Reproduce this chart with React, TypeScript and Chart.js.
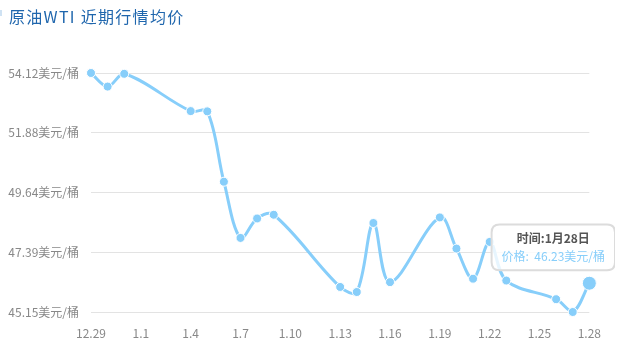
import React, { useEffect, useRef } from "react";
import { Chart, registerables } from "chart.js";

Chart.register(...registerables);

// Trading days (month.day) and WTI average prices in USD per barrel
const dates = [
  "12.29", "12.30", "12.31", "1.4", "1.5", "1.6", "1.7", "1.8", "1.9",
  "1.13", "1.14", "1.15", "1.16", "1.19", "1.20", "1.21", "1.22", "1.23",
  "1.26", "1.27", "1.28",
];
const prices = [
  54.12, 53.61, 54.09, 52.69, 52.68, 50.04, 47.93, 48.66, 48.8,
  46.09, 45.9, 48.49, 46.27, 48.7, 47.53, 46.4, 47.78, 46.33,
  45.63, 45.15, 46.23,
];

// Axis ticks
const yTickValues = [45.15, 47.39, 49.64, 51.88, 54.12];
const xTickLabels = ["12.29", "1.1", "1.4", "1.7", "1.10", "1.13", "1.16", "1.19", "1.22", "1.25", "1.28"];
const xTickStep = 3;

const titleText = "原油WTI 近期行情均价";
const unit = "美元/桶";

// Day offset of each trading date from the first one (the range spans a year end)
function dayOffset(d: string): number {
  const [m, day] = d.split(".").map(Number);
  const startYear = 2014;
  const year = m === 12 ? startYear : startYear + 1;
  const t = Date.UTC(year, m - 1, day);
  const [m0, d0] = dates[0].split(".").map(Number);
  const t0 = Date.UTC(startYear, m0 - 1, d0);
  return Math.round((t - t0) / 86400000);
}

const points = dates.map((d, i) => ({ x: dayOffset(d), y: prices[i] }));
const lastDay = points[points.length - 1].x;

const LINE = "#87cefa";
const FONT = "'Noto Sans CJK SC', 'DejaVu Sans', sans-serif";

export default function App() {
  const canvasRef = useRef<HTMLCanvasElement | null>(null);

  useEffect(() => {
    document.body.style.margin = "0";
    const canvas = canvasRef.current;
    if (!canvas) return;

    const chart = new Chart(canvas, {
      type: "line",
      data: {
        datasets: [
          {
            data: points,
            borderColor: LINE,
            backgroundColor: LINE,
            borderWidth: 3,
            tension: 0.35,
            pointRadius: 4.5,
            pointBorderWidth: 1,
            pointBorderColor: "#ffffff",
            pointBackgroundColor: LINE,
            pointHoverRadius: 7,
            pointHoverBorderWidth: 1,
            pointHoverBorderColor: "#ffffff",
            pointHoverBackgroundColor: LINE,
            clip: false,
          },
        ],
      },
      options: {
        animation: false,
        responsive: false,
        events: [],
        layout: { padding: { top: 73, right: 25, left: 0, bottom: 0 } },
        plugins: {
          legend: { display: false },
          title: { display: false },
          tooltip: {
            enabled: true,
            backgroundColor: "rgba(255,255,255,0.8)",
            borderColor: "#dcdcdc",
            borderWidth: 2,
            cornerRadius: 8,
            caretSize: 0,
            caretPadding: 13,
            xAlign: "center",
            yAlign: "bottom",
            displayColors: false,
            padding: { x: 10, y: 7 },
            titleAlign: "center",
            bodyAlign: "center",
            titleColor: "#555555",
            bodyColor: LINE,
            titleFont: { family: FONT, size: 12, weight: "bold" },
            bodyFont: { family: FONT, size: 12 },
            titleMarginBottom: 3,
            callbacks: {
              title: (items: any[]) => {
                const d = dates[items[0].dataIndex];
                const [m, day] = d.split(".");
                return "时间:" + m + "月" + day + "日";
              },
              label: (item: any) => "价格:  " + item.parsed.y.toFixed(2) + unit,
            },
          },
        },
        scales: {
          x: {
            type: "linear",
            min: 0,
            max: lastDay,
            grid: { display: false, drawTicks: false },
            border: { display: false },
            afterBuildTicks: (scale: any) => {
              scale.ticks = xTickLabels.map((_, i) => ({ value: i * xTickStep }));
            },
            afterFit: (scale: any) => {
              scale.height = 40;
            },
            ticks: {
              padding: 14,
              color: "#888888",
              font: { family: FONT, size: 12 },
              maxRotation: 0,
              autoSkip: false,
              callback: (v: any) => xTickLabels[Math.round(Number(v) / xTickStep)] ?? "",
            },
          },
          y: {
            type: "linear",
            min: yTickValues[0],
            max: yTickValues[yTickValues.length - 1],
            grid: { color: "#e3e3e3", lineWidth: 1, drawTicks: false },
            border: { display: false },
            afterBuildTicks: (scale: any) => {
              scale.ticks = yTickValues.map((v) => ({ value: v }));
            },
            afterFit: (scale: any) => {
              scale.width = 91;
            },
            ticks: {
              padding: 12,
              color: "#888888",
              font: { family: FONT, size: 12 },
              callback: (v: any) => Number(v).toFixed(2) + unit,
            },
          },
        },
      },
    });

    const idx = points.length - 1;
    const el = chart.getDatasetMeta(0).data[idx] as any;
    chart.setActiveElements([{ datasetIndex: 0, index: idx }]);
    chart.tooltip?.setActiveElements([{ datasetIndex: 0, index: idx }], { x: el.x, y: el.y });
    chart.update();

    return () => chart.destroy();
  }, []);

  return (
    <div style={{ position: "relative", width: 631, height: 352, background: "#ffffff" }}>
      <div
        style={{
          position: "absolute",
          left: 0,
          top: 10,
          width: 2,
          height: 6,
          background: "#cfe2f3",
        }}
      />
      <div
        style={{
          position: "absolute",
          left: 9,
          top: 6,
          fontFamily: FONT,
          fontSize: 16,
          lineHeight: "20px",
          letterSpacing: "1.3px",
          color: "#1f66ad",
          whiteSpace: "pre",
          zIndex: 1,
        }}
      >
        {titleText}
      </div>
      <canvas
        ref={canvasRef}
        width={615}
        height={352}
        style={{ position: "absolute", left: 0, top: 0, width: 615, height: 352 }}
      />
    </div>
  );
}
